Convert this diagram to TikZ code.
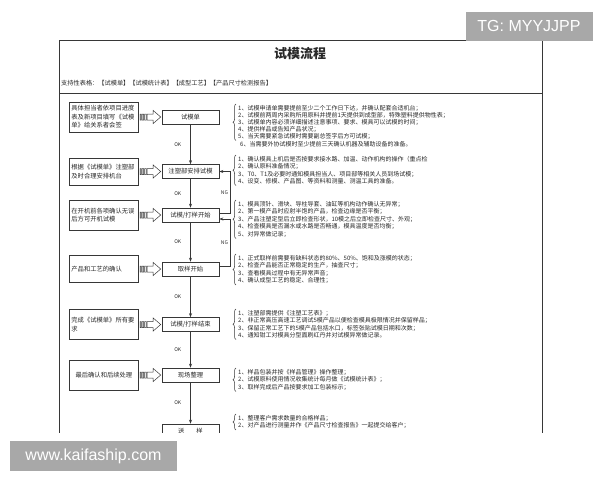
\documentclass[tikz,border=0pt]{standalone}
\usepackage{fontspec}
\setmainfont{Noto Sans CJK SC}
\newfontfamily\wmfont{Liberation Sans}
\usepackage{tikz}
\usetikzlibrary{positioning,calc,decorations.pathreplacing,arrows.meta}
\usepackage{xcolor}
\definecolor{frameline}{RGB}{55,55,55}
\definecolor{inkgray}{RGB}{40,40,40}
\definecolor{markgray}{RGB}{168,168,168}

\begin{document}
\begin{tikzpicture}[
    x=1pt, y=-1pt,
    stepbox/.style={draw=frameline, line width=0.6pt, minimum width=57pt, minimum height=14pt, inner sep=0pt, text=inkgray, font=\fontsize{6.3}{7}\selectfont},
    notebox/.style={draw=frameline, line width=0.6pt, minimum height=30pt, text width=65pt, inner sep=2pt, align=left, text=inkgray, font=\fontsize{6.3}{8.5}\selectfont},
    rules/.style={inner sep=0pt, anchor=north west, align=left, text=inkgray, font=\fontsize{6}{7.5}\selectfont},
    arrow/.style={-{Stealth[length=4pt,width=3pt]}, line width=0.6pt, frameline},
    hollow/.style={line width=0.5pt, frameline, to path={
        ($(\tikztostart)+(1.5,-3)$) rectangle ($(\tikztostart)+(2.5,3)$)
        ($(\tikztostart)+(3.5,-3)$) rectangle ($(\tikztostart)+(4.8,3)$)
        ($(\tikztostart)+(5.8,-3)$) rectangle ($(\tikztostart)+(7.5,3)$)
        ($(\tikztostart)+(8.5,-3)$) -- ($(\tikztotarget)+(-8.5,-3)$) -- ($(\tikztotarget)+(-8.5,-6.5)$)
        -- ($(\tikztotarget)+(-1,0)$) -- ($(\tikztotarget)+(-8.5,6.5)$) -- ($(\tikztotarget)+(-8.5,3)$)
        -- ($(\tikztostart)+(8.5,3)$) -- cycle}},
    brace/.style={decorate, decoration={brace, amplitude=3pt}, line width=0.5pt, frameline},
    flowlabel/.style={inner sep=0pt, text=inkgray, font=\fontsize{5}{5}\selectfont},
    wmark/.style={fill=markgray, text=white, inner sep=0pt, font=\wmfont\fontsize{16}{16}\selectfont}
]
\useasboundingbox (0,0) rectangle (600,480);

\begin{scope}
\clip (0,0) rectangle (600,432);

% ========== FRAME AND HEADER ==========
\draw[frameline, line width=0.8pt] (59,40) rectangle (542,470);
\draw[frameline, line width=0.8pt] (59,93) -- (542,93);

\node[font=\fontsize{13}{13}\selectfont\bfseries, text=inkgray] (title) at (300,54) {试模流程};
\node[anchor=west, inner sep=0pt, text=inkgray, font=\fontsize{6.2}{6.2}\selectfont] (forms) at (61,83)
    {支持性表格：【试模单】【试模统计表】【成型工艺】【产品尺寸检测报告】};

% ========== MIDDLE COLUMN: Steps ==========
\node[stepbox] (c1) at (190.5,117) {试模单};
\node[stepbox] (c2) at (190.5,171.5) {注塑部安排试模};
\node[stepbox] (c3) at (190.5,215) {试模/打样开始};
\node[stepbox] (c4) at (190.5,269) {取样开始};
\node[stepbox] (c5) at (190.5,324.5) {试模/打样结束};
\node[stepbox] (c6) at (190.5,375) {现场整理};
\node[stepbox] (c7) at (190.5,431) {送\hspace{12pt}样};

% OK arrows
\draw[arrow] (c1) -- node[flowlabel, left=9pt] (ok1) {OK} (c2);
\draw[arrow] (c2) -- node[flowlabel, left=9pt] (ok2) {OK} (c3);
\draw[arrow] (c3) -- node[flowlabel, left=9pt] (ok3) {OK} (c4);
\draw[arrow] (c4) -- node[flowlabel, left=9pt] (ok4) {OK} (c5);
\draw[arrow] (c5) -- node[flowlabel, left=9pt] (ok5) {OK} (c6);
\draw[arrow] (c6) -- node[flowlabel, left=9pt] (ok6) {OK} (c7);

% NG loops
\draw[arrow] ($(c3.east)+(0,-2)$) -- ++(11,0) |- node[flowlabel, pos=0.25, left=2pt] (ng1) {NG} (c2.east);
\draw[arrow] ($(c4.east)+(0,-3)$) -- ++(11,0) |- node[flowlabel, pos=0.25, left=2pt] (ng2) {NG} ($(c3.east)+(0,4)$);

% ========== LEFT COLUMN: Inputs ==========
\node[notebox, left=23pt of c1] (l1) {具体担当者依项目进度\\表及新项目填写《试模\\单》给关系者会签};
\node[notebox, minimum height=27pt, left=23pt of c2] (l2) {根据《试模单》注塑部\\及时合理安排机台};
\node[notebox, left=23pt of c3] (l3) {在开机前各项确认无误\\后方可开机试模};
\node[notebox, minimum height=27pt, left=23pt of c4] (l4) {产品和工艺的确认};
\node[notebox, left=23pt of c5] (l5) {完成《试模单》所有要\\求};
\node[notebox, align=center, left=23pt of c6] (l6) {最后确认和后续处理};

% Block arrows into the steps
\draw[hollow] (l1.east) to (c1.west);
\draw[hollow] (l2.east) to (c2.west);
\draw[hollow] (l3.east) to (c3.west);
\draw[hollow] (l4.east) to (c4.west);
\draw[hollow] (l5.east) to (c5.west);
\draw[hollow] (l6.east) to (c6.west);

% ========== RIGHT COLUMN: Notes ==========
\node[rules, font=\fontsize{6}{7}\selectfont] (g1) at (238,105) {%
    1、试模申请单需要提前至少二个工作日下达，并确认配套合适机台；\\
    2、试模前两周内采购所用原料并提前1天提供到成型部，特殊塑料提供物性表；\\
    3、试模单内容必须详细描述注意事项、要求、模具可以试模的时间；\\
    4、提供样品或告知产品状况；\\
    5、当天需要紧急试模时需要副总签字后方可试模；};
\node[rules, below right=1.3pt and 2pt of g1.south west] (g1b)
    {6、当需要外协试模时至少提前三天确认机器及辅助设备的准备。};
\node[rules] (g2) at (238,156) {%
    1、确认模具上机后是否按要求接水路、加温、动作机构的操作（重点检\\
    2、确认原料准备情况；\\
    3、T0、T1及必要时通知模具担当人、项目部等相关人员到场试模；\\
    4、设变、修模、产品图、等资料和测量、测温工具的准备。};
\node[rules] (g3) at (238,201) {%
    1、模具顶针、滑块、导柱导套、油缸等机构动作确认无异常；\\
    2、第一模产品时应射半饱的产品，检查边缘是否平衡；\\
    3、产品注塑定型后立即检查形状，10模之后立即检查尺寸、外观；\\
    4、检查模具是否漏水或水路是否畅通，模具温度是否均衡；\\
    5、对异常做记录；};
\node[rules] (g4) at (238,255) {%
    1、正式取样前需要有缺料状态的80\%、50\%、饱和及涨模的状态；\\
    2、检查产品能否正常稳定的生产，抽查尺寸；\\
    3、查看模具过程中有无异常声音；\\
    4、确认成型工艺的稳定、合理性；};
\node[rules] (g5) at (238,310) {%
    1、注塑部需提供《注塑工艺表》；\\
    2、非正常高压高速工艺调试5模产品以便检查模具极限情况并保留样品；\\
    3、保留正常工艺下的5模产品包括水口，标签张贴试模日期和次数；\\
    4、通知钳工对模具分型面刷红丹并对试模异常做记录。};
\node[rules] (g6) at (238,369) {%
    1、样品包装并按《样品管理》操作整理；\\
    2、试模原料使用情况收集统计每月做《试模统计表》；\\
    3、取样完成后产品按要求加工包装标示；};
\node[rules] (g7) at (238,415) {%
    1、整理客户需求数量的合格样品；\\
    2、对产品进行测量并作《产品尺寸检查报告》一起提交给客户；};

% Braces
\foreach \g in {g1,g2,g3,g4,g5,g6,g7}
    \draw[brace] ($(\g.south west)+(-2,1)$) -- ($(\g.north west)+(-2,-1)$);
\end{scope}

% ========== WATERMARKS ==========
\node[wmark, minimum width=127pt, minimum height=29pt] (tg) at (529,26) {TG: MYYJJPP};
\node[wmark, minimum width=167pt, minimum height=30pt] (site) at (93.5,456) {www.kaifaship.com};

\end{tikzpicture}
\end{document}
